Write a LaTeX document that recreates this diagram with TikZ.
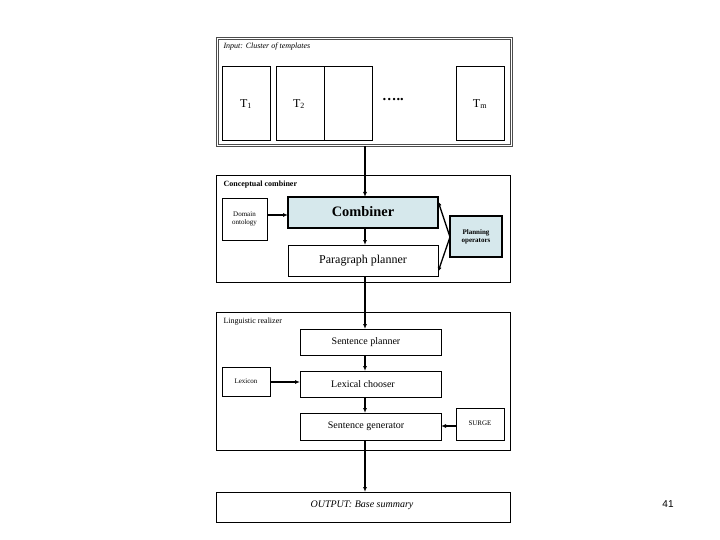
\documentclass[tikz,border=0pt]{standalone}
\usepackage{fontspec}
\setmainfont{Liberation Serif}
\newfontfamily\sans{Liberation Sans}
\usetikzlibrary{arrows.meta}
\definecolor{fillb}{RGB}{214,232,236}
\begin{document}
\begin{tikzpicture}[x=1pt,y=-1pt,
  hi/.style={draw,line width=1.3pt,fill=fillb},
  ar/.style={-{Latex[length=5pt,width=4pt]},line width=1.3pt}]
\useasboundingbox (0,0) rectangle (720,540);
% input
\draw[gray!60!black] (216,37) rectangle (512,146);
\draw[gray!60!black] (218,39) rectangle (510,144);
\node[anchor=west,font=\itshape\footnotesize] (inl) at (220,47) {Input: Cluster of templates};
\draw (222,66) rectangle (270,140); \node[font=\large] (t1) at (246,104) {T\textsubscript{1}};
\draw (276,66) rectangle (324,140); \node[font=\large] (t2) at (299,104) {T\textsubscript{2}};
\draw (324,66) rectangle (372,140);
\node[font=\Large] (dots) at (393,100) {\textbf{\dots..}};
\draw (456,66) rectangle (504,140); \node[font=\large] (tm) at (480,104) {T\textsubscript{m}};
\coordinate (inb) at (365,146);
% conceptual
\draw (216,175) rectangle (510,282);
\node[anchor=west,font=\bfseries\footnotesize] (ccl) at (220,185) {Conceptual combiner};
\draw (222,198) rectangle (267,240);
\node[font=\scriptsize,align=center,inner sep=0] (dom) at (244.5,219) {Domain\\ontology};
\coordinate (domr) at (267,215);
\draw[hi] (288,197) rectangle (438,228);
\node[font=\Large\bfseries] (comb) at (363,212) {Combiner};
\draw (288,245) rectangle (438,276);
\node[font=\large] (pp) at (363,261) {Paragraph planner};
\draw[hi] (450,216) rectangle (502,257);
\node[font=\scriptsize\bfseries,align=center,inner sep=0] (po) at (476,237) {Planning\\operators};
\draw[ar] (inb) -- (365,197);
\draw[ar] (domr) -- (288,215);
\draw[ar] (365,228) -- (365,245);
\draw[ar] (450,237) -- (438,201);
\draw[ar] (450,237) -- (438,272);
% linguistic
\draw (216,312) rectangle (510,450);
\node[anchor=west,font=\footnotesize] (lrl) at (220,322) {Linguistic realizer};
\draw (300,329) rectangle (441,355); \node (sp) at (366,342) {Sentence planner};
\draw (222,367) rectangle (270,396); \node[font=\scriptsize] (lex) at (246,381) {Lexicon};
\draw (300,371) rectangle (441,397); \node (lc) at (363,384) {Lexical chooser};
\draw (300,413) rectangle (441,440); \node (sg) at (366,426) {Sentence generator};
\draw (456,408) rectangle (504,440); \node[font=\scriptsize] (surge) at (480,423) {SURGE};
\draw[ar] (365,276) -- (365,329);
\draw[ar] (365,355) -- (365,371);
\draw[ar] (270,382) -- (300,382);
\draw[ar] (365,397) -- (365,413);
\draw[ar] (456,426) -- (441,426);
% output
\draw (216,492) rectangle (510,522);
\node[font=\itshape] (out) at (362,505) {OUTPUT: Base summary};
\draw[ar] (365,440) -- (365,492);
\node[font=\sans] (pg) at (668,504) {41};
\end{tikzpicture}
\end{document}
